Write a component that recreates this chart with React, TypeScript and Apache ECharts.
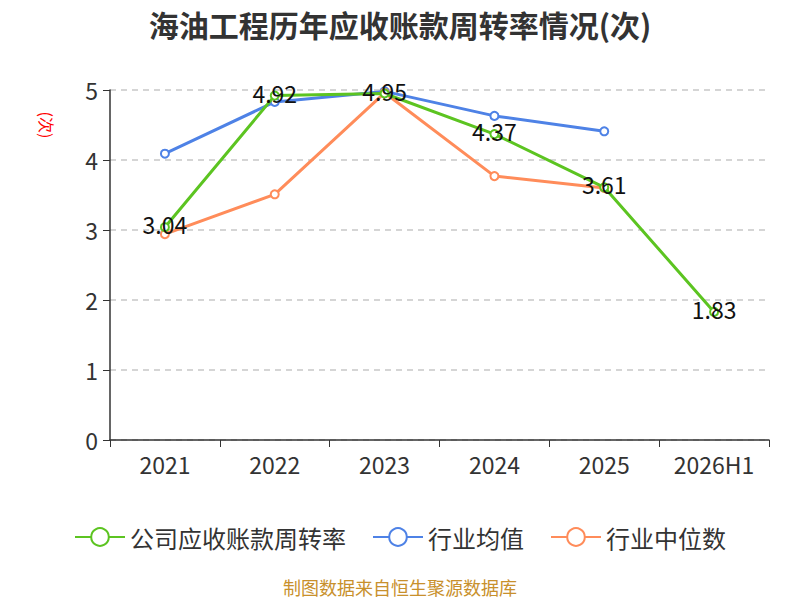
import React, { useEffect, useRef } from "react";
import * as echarts from "echarts";

const categories = ["2021", "2022", "2023", "2024", "2025", "2026H1"];
const companyRate = [3.04, 4.92, 4.95, 4.37, 3.61, 1.83];
const industryAvg = [4.09, 4.83, 4.98, 4.63, 4.41, null];
const industryMedian = [2.94, 3.51, 4.96, 3.77, 3.6, null];
const seriesNames = ["公司应收账款周转率", "行业均值", "行业中位数"];
const titleText = "海油工程历年应收账款周转率情况(次)";
const footerText = "制图数据来自恒生聚源数据库";
const unitText = "(次)";

const FONT = "'Noto Sans CJK SC', 'Noto Sans', sans-serif";

export default function App() {
  const ref = useRef<HTMLDivElement>(null);
  useEffect(() => {
    document.body.style.margin = "0";
    if (!ref.current) return;
    const chart = echarts.init(ref.current, null, { renderer: "svg" });
    chart.setOption({
      animation: false,
      backgroundColor: "#ffffff",
      textStyle: { fontFamily: FONT },
      title: {
        text: titleText,
        left: "center",
        top: 4,
        textStyle: { fontSize: 30, fontWeight: "bold", color: "#333", fontFamily: FONT },
      },
      grid: { left: 110, right: 31, top: 90, bottom: 160 },
      legend: {
        bottom: 46,
        left: "center",
        itemWidth: 50,
        itemHeight: 22,
        itemGap: 26,
        textStyle: { fontSize: 24, color: "#333", fontFamily: FONT },
        data: seriesNames,
      },
      xAxis: {
        type: "category",
        data: categories,
        boundaryGap: true,
        axisLine: { lineStyle: { color: "#333", width: 1.5 } },
        axisTick: { show: true, length: 7, lineStyle: { color: "#333" } },
        axisLabel: { fontSize: 23, color: "#333", margin: 12, fontFamily: FONT },
      },
      yAxis: {
        type: "value",
        min: 0,
        max: 5,
        interval: 1,
        axisLine: { show: true, lineStyle: { color: "#333", width: 1.5 } },
        axisTick: { show: true, length: 7, lineStyle: { color: "#333" } },
        axisLabel: { fontSize: 23, color: "#333", margin: 12, fontFamily: FONT },
        splitLine: { show: true, lineStyle: { type: [6, 5], color: "#c8c8c8", width: 1.5 } },
      },
      graphic: [
        {
          type: "text",
          x: 47,
          y: 125,
          rotation: -Math.PI / 2,
          style: {
            text: unitText,
            fill: "#ff0000",
            fontSize: 16,
            fontFamily: FONT,
            align: "center",
            verticalAlign: "middle",
          },
        },
        {
          type: "text",
          x: 400,
          y: 587,
          style: {
            text: footerText,
            fill: "#c8902c",
            fontSize: 18,
            fontFamily: FONT,
            align: "center",
            verticalAlign: "middle",
          },
        },
      ],
      series: [
        {
          name: seriesNames[0],
          type: "line",
          data: companyRate,
          symbol: "emptyCircle",
          symbolSize: 8,
          itemStyle: { color: "#5cc421" },
          lineStyle: { width: 3, color: "#5cc421" },
          z: 3,
          label: {
            show: true,
            position: "inside",
            offset: [0, -3],
            fontSize: 23,
            color: "#111",
            fontFamily: FONT,
          },
        },
        {
          name: seriesNames[1],
          type: "line",
          data: industryAvg,
          symbol: "emptyCircle",
          symbolSize: 8,
          itemStyle: { color: "#4e82e6" },
          lineStyle: { width: 3, color: "#4e82e6" },
          z: 2,
        },
        {
          name: seriesNames[2],
          type: "line",
          data: industryMedian,
          symbol: "emptyCircle",
          symbolSize: 8,
          itemStyle: { color: "#ff8c5a" },
          lineStyle: { width: 3, color: "#ff8c5a" },
          z: 2,
        },
      ],
    });
    return () => chart.dispose();
  }, []);
  return <div ref={ref} style={{ width: 800, height: 600 }} />;
}
